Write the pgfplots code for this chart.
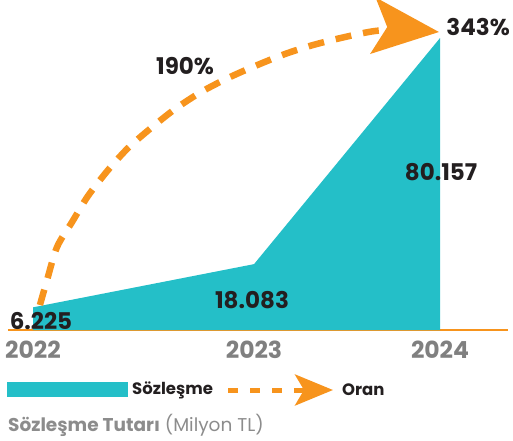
\documentclass[border=0pt]{standalone}
\usepackage{fontspec}
\setmainfont{Poppins}
\usepackage{pgfplots}
\pgfplotsset{compat=1.18}
\usetikzlibrary{arrows.meta}
\definecolor{tealc}{HTML}{24BFC8}
\definecolor{orangec}{HTML}{F7941D}
\definecolor{darkc}{HTML}{231F20}
\definecolor{grayc}{HTML}{808080}
\definecolor{graylt}{HTML}{8C8C8C}
\begin{document}
\begin{tikzpicture}[x=1pt,y=1pt]
\path[use as bounding box] (0,0) rectangle (513,440);
\begin{axis}[
  at={(8pt,110pt)}, anchor=south west,
  scale only axis, width=500pt, height=330pt,
  xmin=-0.1229, xmax=2.334, ymin=0, ymax=90.59,
  clip=false,
  axis y line=none,
  axis x line*=bottom,
  x axis line style={orangec, line width=2pt, -},
  xtick={0,1.086,2},
  xticklabels={2022,2023,2024},
  major tick length=0pt,
  xticklabel style={anchor=center, yshift=-20pt, text=grayc, font=\fontsize{23.5}{28}\selectfont\bfseries, text depth=0pt},
  ytick=\empty,
]
\addplot[fill=tealc, draw=none] coordinates {(0,6.225) (1.086,18.083) (2,80.157)} \closedcycle;
\addplot[orangec, line width=6.5pt, dash pattern=on 16pt off 12pt, smooth, tension=0.5,
  -{Stealth[length=66pt,width=56pt,inset=14pt]}] coordinates {
  (0.034,6.86) (0.069,13.73) (0.118,22.78) (0.192,29.65) (0.270,36.78)
  (0.369,43.92) (0.467,49.96) (0.580,55.45) (0.698,60.66) (0.826,65.33)
  (0.958,69.17) (1.091,72.47) (1.238,75.76) (1.376,78.23) (1.533,80.43)
  (1.681,82.08) (1.828,82.5) (1.995,81.8)};
\begin{scope}[every node/.style={text=darkc, font=\fontsize{23}{27}\selectfont\bfseries, inner sep=0pt, text depth=0pt}]
\node at (axis cs:0.039,2.47) {6.225};
\node at (axis cs:1.076,8.24) {18.083};
\node at (axis cs:2.005,43.4) {80.157};
\node at (axis cs:0.747,72.5) {190\%};
\node at (axis cs:2.187,83.2) {343\%};
\end{scope}
\end{axis}
\fill[tealc] (7,43) rectangle (128,58);
\node[anchor=west, inner sep=0pt, text=darkc, font=\fontsize{16.5}{20}\selectfont\bfseries] at (132,50) {Sözleşme};
\draw[orangec, line width=5pt, dash pattern=on 10pt off 12pt, -{Stealth[length=38pt,width=31pt,inset=9pt]}] (228,50) -- (333,50);
\node[anchor=west, inner sep=0pt, text=darkc, font=\fontsize{16.5}{20}\selectfont\bfseries] at (342,50) {Oran};
\node[anchor=west, inner sep=0pt, text=graylt, font=\fontsize{18.5}{22}\selectfont] at (8,15) {\textbf{Sözleşme Tutarı} (Milyon TL)};
\end{tikzpicture}
\end{document}
